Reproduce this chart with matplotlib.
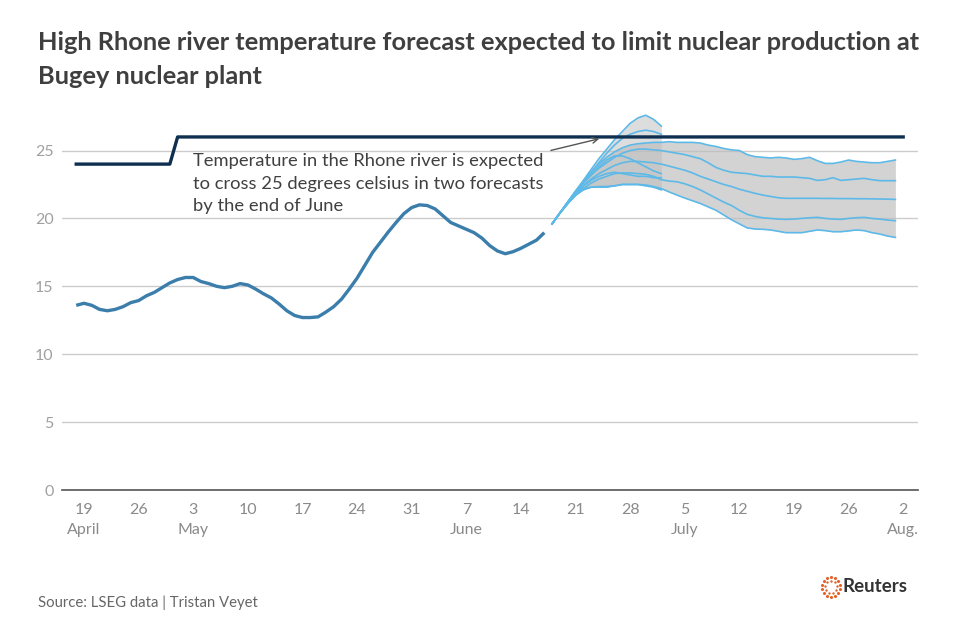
import numpy as np
import pandas as pd
import matplotlib
matplotlib.use("Agg")
import matplotlib.pyplot as plt
import matplotlib.dates as mdates

plt.rcParams['font.family'] = ['Lato', 'DejaVu Sans']

# observed Rhone temperature at Bugey, daily from 18 April
hist_start = '2025-04-18'
hist_temp = [13.6, 13.75, 13.6, 13.3, 13.2, 13.3, 13.5, 13.8, 13.95, 14.3,
             14.55, 14.9, 15.25, 15.5, 15.65, 15.65, 15.35, 15.2, 15.0, 14.9,
             15.0, 15.2, 15.1, 14.8, 14.45, 14.15, 13.7, 13.2, 12.85, 12.7,
             12.7, 12.75, 13.1, 13.5, 14.05, 14.8, 15.6, 16.55, 17.5, 18.25,
             19.0, 19.7, 20.35, 20.8, 21.0, 20.95, 20.7, 20.2, 19.7, 19.45,
             19.2, 18.95, 18.55, 18.0, 17.6, 17.4, 17.55, 17.8, 18.1, 18.4,
             18.95]

# short range forecasts, daily from 18 June
fc_start = '2025-06-18'
short_1 = [19.6, 20.4, 21.2, 22.0, 22.8, 23.6, 24.4, 25.1, 25.8, 26.4, 27.0, 27.4, 27.6, 27.3, 26.8]
short_2 = [19.6, 20.4, 21.2, 22.0, 22.7, 23.4, 24.1, 24.8, 25.4, 25.9, 26.2, 26.4, 26.5, 26.4, 26.2]
short_3 = [19.6, 20.4, 21.2, 21.9, 22.6, 23.2, 23.8, 24.3, 24.6, 24.6, 24.4, 24.1, 23.8, 23.5, 23.3]
short_4 = [19.6, 20.4, 21.1, 21.8, 22.4, 22.8, 23.1, 23.3, 23.4, 23.3, 23.2, 23.1, 23.1, 23.0, 23.0]
short_5 = [19.6, 20.4, 21.1, 21.7, 22.2, 22.3, 22.3, 22.3, 22.4, 22.5, 22.5, 22.5, 22.4, 22.3, 22.1]

# long range forecasts, daily from 18 June
long_1 = [19.6, 20.4, 21.2, 22.0, 22.7, 23.4, 24.0, 24.5, 24.9, 25.2, 25.4, 25.5, 25.55, 25.6, 25.6,
          25.65, 25.6, 25.6, 25.6, 25.55, 25.4, 25.3, 25.15, 25.05, 25.0, 24.7, 24.55, 24.5, 24.45, 24.5,
          24.45, 24.35, 24.4, 24.5, 24.25, 24.05, 24.05, 24.15, 24.3, 24.2, 24.15, 24.1, 24.1, 24.2, 24.3]
long_2 = [19.6, 20.4, 21.2, 21.9, 22.6, 23.2, 23.7, 24.1, 24.5, 24.8, 25.0, 25.1, 25.1, 25.05, 25.0,
          24.9, 24.8, 24.7, 24.55, 24.4, 24.1, 23.75, 23.55, 23.4, 23.35, 23.3, 23.2, 23.1, 23.1, 23.05,
          23.05, 23.05, 23.0, 22.95, 22.8, 22.85, 23.0, 22.8, 22.85, 22.9, 22.95, 22.85, 22.78, 22.78, 22.78]
long_3 = [19.6, 20.4, 21.1, 21.8, 22.4, 22.9, 23.3, 23.6, 23.9, 24.1, 24.2, 24.2, 24.15, 24.1, 24.0,
          23.85, 23.7, 23.55, 23.35, 23.1, 22.9, 22.7, 22.5, 22.35, 22.15, 22.0, 21.85, 21.72, 21.62, 21.52,
          21.48, 21.48, 21.48, 21.48, 21.48, 21.47, 21.47, 21.46, 21.46, 21.45, 21.45, 21.44, 21.43, 21.42, 21.4]
long_4 = [19.6, 20.4, 21.1, 21.7, 22.2, 22.6, 22.9, 23.1, 23.3, 23.35, 23.35, 23.3, 23.25, 23.1, 22.85,
          22.75, 22.7, 22.55, 22.35, 22.1, 21.8, 21.5, 21.2, 20.95, 20.6, 20.3, 20.15, 20.05, 20.0, 19.95,
          19.93, 19.95, 20.0, 20.05, 20.08, 20.0, 19.95, 19.93, 20.0, 20.05, 20.08, 20.0, 19.95, 19.88, 19.83]
long_5 = [19.6, 20.4, 21.1, 21.7, 22.1, 22.3, 22.35, 22.35, 22.4, 22.5, 22.5, 22.5, 22.46, 22.35, 22.2,
          21.95, 21.72, 21.5, 21.3, 21.1, 20.85, 20.6, 20.25, 19.9, 19.6, 19.3, 19.22, 19.2, 19.15, 19.05,
          18.95, 18.95, 18.95, 19.05, 19.15, 19.1, 19.02, 19.02, 19.08, 19.15, 19.1, 18.95, 18.85, 18.7, 18.6]

# temperature limit for production
limit_dates = ['2025-04-18', '2025-04-30', '2025-05-01', '2025-08-02']
limit_vals = [24, 24, 26, 26]

tick_start = '2025-04-19'
tick_end = '2025-08-02'
month_names = {4: 'April', 5: 'May', 6: 'June', 7: 'July', 8: 'Aug.'}

hist_x = pd.date_range(hist_start, periods=len(hist_temp), freq='D')
short_x = pd.date_range(fc_start, periods=len(short_1), freq='D')
long_x = pd.date_range(fc_start, periods=len(long_1), freq='D')

fig = plt.figure(figsize=(9.66, 6.31), dpi=100)
ax = fig.add_axes([62 / 966, 1 - 490 / 631, 856 / 966, 387 / 631])

grey_txt = '#a0a0a0'
fc_blue = '#5db9e8'

# bands
ax.fill_between(long_x, long_5, long_1, color='#bdbdbd', alpha=0.66, lw=0, zorder=1)
ax.fill_between(short_x, short_5, short_1, color='#bdbdbd', alpha=0.5, lw=0, zorder=1)
for s in [long_1, long_2, long_3, long_4, long_5]:
    ax.plot(long_x, s, color=fc_blue, lw=1.2, zorder=3)
for s in [short_1, short_2, short_3, short_4, short_5]:
    ax.plot(short_x, s, color=fc_blue, lw=1.2, zorder=3)

ax.plot(hist_x, hist_temp, color='#3b7dab', lw=2.4, zorder=4, solid_capstyle='butt')
ax.plot(pd.to_datetime(limit_dates), limit_vals, color='#0e2f50', lw=2.4, zorder=5)

# axes styling
x0 = mdates.date2num(pd.Timestamp(tick_start))
ax.set_xlim(x0 - 2.82, x0 + 106.9)
ax.set_ylim(0, 28.5)
ax.set_yticks([0, 5, 10, 15, 20, 25])
ax.yaxis.grid(True, color='#cccccc', lw=1, zorder=0)
ax.set_axisbelow(True)
for sp in ['left', 'right', 'top']:
    ax.spines[sp].set_visible(False)
ax.spines['bottom'].set_color('#555555')
ax.spines['bottom'].set_linewidth(1.2)
ax.tick_params(axis='y', length=0, pad=6, labelsize=11.5, labelcolor=grey_txt)

ticks = pd.date_range(tick_start, tick_end, freq='7D')
labels = []
prev_month = None
for d in ticks:
    if d.month != prev_month:
        labels.append('%d\n%s' % (d.day, month_names[d.month]))
    else:
        labels.append('%d' % d.day)
    prev_month = d.month
ax.set_xticks(ticks)
ax.set_xticklabels(labels)
ax.tick_params(axis='x', length=0, pad=9, labelsize=11.5, labelcolor='#8a8a8a')
for lab in ax.get_xticklabels():
    lab.set_linespacing(1.6)
    lab.set_verticalalignment('top')

# annotation
ax.text(x0 + 14, 24.8,
        'Temperature in the Rhone river is expected\nto cross 25 degrees celsius in two forecasts\nby the end of June',
        fontsize=13.2, color='#404040', va='top', ha='left', linespacing=1.5, zorder=6)
ax.annotate('', xy=(x0 + 66.4, 25.92), xytext=(x0 + 59.5, 24.96),
            arrowprops=dict(arrowstyle='->', color='#555555', lw=1), zorder=6)

# titles and footer
fig.text(38 / 966, 1 - 42 / 631,
         'High Rhone river temperature forecast expected to limit nuclear production at',
         fontsize=18.3, fontweight='bold', color='#3f3f3f', va='center', ha='left')
fig.text(38 / 966, 1 - 76 / 631, 'Bugey nuclear plant',
         fontsize=18.3, fontweight='bold', color='#3f3f3f', va='center', ha='left')
fig.text(38 / 966, 1 - 603 / 631, 'Source: LSEG data | Tristan Veyet',
         fontsize=10.7, color='#666666', va='center', ha='left')

# Reuters logo
lax = fig.add_axes([819 / 966, 1 - 600 / 631, 24 / 966, 26 / 631])
lax.set_xlim(-1.3, 1.3)
lax.set_ylim(-1.3, 1.3)
lax.axis('off')
for r, n, sz in [(1.0, 14, 5), (0.62, 9, 3)]:
    ang = np.linspace(0, 2 * np.pi, n, endpoint=False) + 0.2
    lax.scatter(r * np.cos(ang), r * np.sin(ang), s=sz, color='#e2622a', lw=0)
fig.text(843 / 966, 1 - 587 / 631, 'Reuters', fontsize=13.5, fontweight='bold',
         color='#333333', va='center', ha='left')

fig.savefig('out.png', dpi=100)
